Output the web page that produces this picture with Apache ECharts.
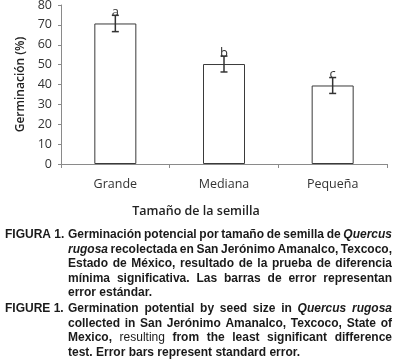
<!DOCTYPE html>
<html><head><meta charset="utf-8">
<script src="https://cdn.jsdelivr.net/npm/echarts@6/dist/echarts.min.js"></script>
<style>html,body{margin:0;padding:0;background:#fff;}#c{width:397px;height:359px;}</style>
</head><body><div id="c"></div>
<script>
const categories = ['Grande', 'Mediana', 'Pequeña'];
const germination = [70.7, 50.3, 39.5];
const stdError = [4.1, 4.0, 4.0];
const letters = ['a', 'b', 'c'];
const yTicks = [0, 10, 20, 30, 40, 50, 60, 70, 80];
const yName = 'Germinación (%)';
const xName = 'Tamaño de la semilla';

// Caption lines: arrays of [text, style] segments; style: b=bold, i=bold italic, n=normal
const captionES = {
  label: 'FIGURA 1.',
  lines: [
    [['Germinación potencial por tamaño de semilla de', 'b'], ['Quercus', 'i']],
    [['rugosa', 'i'], ['recolectada en San Jerónimo Amanalco, Texcoco,', 'b']],
    [['Estado de México, resultado de la prueba de diferencia', 'b']],
    [['mínima significativa. Las barras de error representan', 'b']],
    [['error estándar.', 'b']]
  ]
};
const captionEN = {
  label: 'FIGURE 1.',
  lines: [
    [['Germination potential by seed size in', 'b'], ['Quercus rugosa', 'i']],
    [['collected in San Jerónimo Amanalco, Texcoco, State of', 'b']],
    [['Mexico,', 'b'], ['resulting', 'n'], ['from the least significant difference', 'b']],
    [['test. Error bars represent standard error.', 'b']]
  ]
};

const errData = categories.map((c, i) => [i, germination[i] - stdError[i], germination[i] + stdError[i], letters[i]]);

const FS = 12, FF = '"Liberation Sans", Arial, sans-serif';
const capColor = '#1a1a1a';
function fontOf(s) {
  if (s === 'i') return 'italic bold ' + FS + 'px ' + FF;
  if (s === 'n') return FS + 'px ' + FF;
  return 'bold ' + FS + 'px ' + FF;
}
const ctx = document.createElement('canvas').getContext('2d');
function measure(t, s) { ctx.font = fontOf(s); return ctx.measureText(t).width; }

const graphics = [];
function addCaption(cap, y0, lh) {
  const LX = 5, X0 = 68, X1 = 392;
  graphics.push({ type: 'text', x: LX, y: y0, style: { text: cap.label, font: fontOf('b'), fill: capColor, textVerticalAlign: 'middle' } });
  cap.lines.forEach((segs, li) => {
    const words = [];
    segs.forEach(([t, s]) => t.split(' ').forEach(w => words.push([w, s])));
    const widths = words.map(([w, s]) => measure(w, s));
    const sum = widths.reduce((a, b) => a + b, 0);
    const last = li === cap.lines.length - 1;
    const gap = last ? measure(' ', 'b') : (X1 - X0 - sum) / (words.length - 1);
    let x = X0;
    words.forEach(([w, s], k) => {
      graphics.push({ type: 'text', x: x, y: y0 + li * lh, style: { text: w, font: fontOf(s), fill: capColor, textVerticalAlign: 'middle' } });
      x += widths[k] + gap;
    });
  });
}
addCaption(captionES, 235, 14.5);
addCaption(captionEN, 308.5, 14.8);
graphics.push({ type: 'text', x: 196, y: 211, style: { text: xName, font: '600 12.5px "Open Sans", sans-serif', fill: '#222', textAlign: 'center', textVerticalAlign: 'middle' } });

const chart = echarts.init(document.getElementById('c'), null, { renderer: 'canvas' });
chart.setOption({
  animation: false,
  backgroundColor: '#fff',
  grid: { left: 61, right: 10, top: 5, bottom: 195, containLabel: false, outerBoundsMode: 'none' },
  xAxis: {
    type: 'category', data: categories, boundaryGap: true,
    axisLine: { lineStyle: { color: '#8a8a8a', width: 1 } },
    axisTick: { show: true, length: 4, lineStyle: { color: '#8a8a8a' } },
    axisLabel: { margin: 14, fontSize: 12.5, fontFamily: '"Open Sans", sans-serif', color: '#333' }
  },
  yAxis: {
    type: 'value', min: yTicks[0], max: yTicks[yTicks.length - 1], interval: yTicks[1] - yTicks[0],
    name: yName, nameLocation: 'middle', nameGap: 34, nameRotate: 90,
    nameTextStyle: { fontSize: 12, fontWeight: 600, fontFamily: '"Open Sans", sans-serif', color: '#222' },
    axisLine: { show: true, lineStyle: { color: '#8a8a8a', width: 1 } },
    axisTick: { show: true, length: 3, lineStyle: { color: '#8a8a8a' } },
    splitLine: { show: false },
    axisLabel: { margin: 9, fontSize: 12.5, fontFamily: '"Open Sans", sans-serif', color: '#333' }
  },
  series: [
    {
      type: 'bar', data: germination, barWidth: 42,
      itemStyle: { color: '#fff', borderColor: '#3a3a3a', borderWidth: 1 }
    },
    {
      type: 'custom', data: errData, z: 10,
      encode: { x: 0, y: [1, 2] },
      renderItem: function (params, api) {
        const x = api.coord([api.value(0), 0])[0];
        const lo = api.coord([api.value(0), api.value(1)])[1];
        const hi = api.coord([api.value(0), api.value(2)])[1];
        const hw = 3.5;
        const st = { stroke: '#333', lineWidth: 1.5 };
        return {
          type: 'group', children: [
            { type: 'line', shape: { x1: x, y1: lo, x2: x, y2: hi }, style: st },
            { type: 'line', shape: { x1: x - hw, y1: lo, x2: x + hw, y2: lo }, style: st },
            { type: 'line', shape: { x1: x - hw, y1: hi, x2: x + hw, y2: hi }, style: st },
            { type: 'text', x: x, y: hi - 3, style: { text: api.value(3), font: '13px "Open Sans", sans-serif', fill: '#333', textAlign: 'center', textVerticalAlign: 'middle' } }
          ]
        };
      }
    }
  ],
  graphic: graphics
});
</script></body></html>
